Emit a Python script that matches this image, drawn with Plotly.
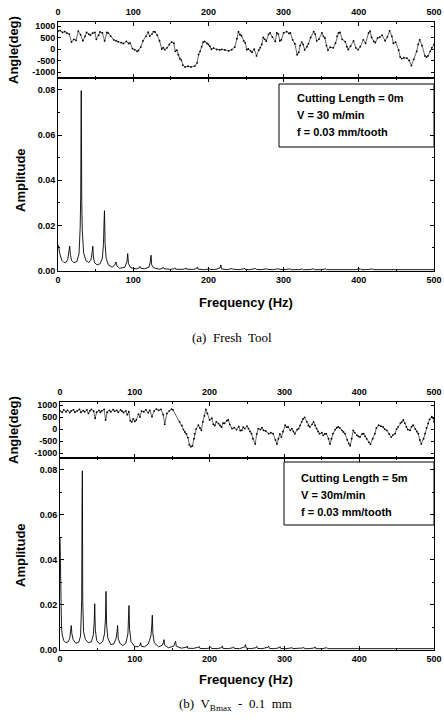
import plotly.graph_objects as go

# ---------------- data: (a) Fresh tool ----------------
angle_a_freq = [0, 3, 6, 9, 12, 15, 18, 21, 24, 27, 30, 33, 36, 38, 41, 43, 46, 49, 51, 54, 56, 59, 62, 65, 67, 70,
                74, 77, 80, 84, 87, 91, 94, 96, 99, 102, 105, 107, 110, 113, 117, 120, 122, 125, 127, 129, 132, 135,
                138, 140, 142, 145, 148, 151, 154, 156, 158, 160, 162, 164, 166, 169, 173, 177, 182, 185, 187, 189,
                191, 193, 195, 198, 200, 202, 204, 207, 211, 215, 218, 222, 227, 231, 235, 238, 240, 242, 244, 247,
                249, 251, 253, 256, 258, 261, 264, 267, 269, 271, 273, 275, 277, 280, 282, 285, 289, 291, 293, 295,
                297, 300, 304, 307, 309, 312, 315, 318, 320, 322, 324, 326, 328, 331, 333, 336, 340, 342, 344, 347,
                351, 353, 355, 357, 359, 362, 366, 369, 371, 373, 375, 378, 382, 384, 386, 389, 393, 396, 399, 402,
                406, 409, 413, 415, 417, 420, 422, 425, 428, 431, 435, 438, 441, 444, 446, 449, 453, 455, 457, 460,
                464, 467, 470, 473, 477, 479, 481, 484, 488, 490, 492, 495, 497, 500]
angle_a_deg = [780, 800, 720, 760, 690, 650, 300, 420, 380, 780, 620, 360, 550, 720, 650, 600, 690, 720, 420, 600,
               740, 700, 350, 720, 690, 560, 400, 360, 320, 280, 240, 330, 240, 260, 20, -30, -100, -60, 80, 350, 550,
               730, 560, 650, 760, 740, 600, 360, 0, 60, -30, 50, 200, 300, 250, -100, -50, -250, -420, -480, -700,
               -780, -750, -780, -740, -600, -240, -100, 100, 300, 330, 250, 200, 120, -10, 40, -20, -40, -15, -40,
               -80, -30, 80, 450, 750, 620, 580, 350, 270, -30, 0, -80, -140, -10, -300, -50, 60, 200, 500, 420, 340,
               640, 700, 520, 330, 700, 650, 350, 400, 700, 760, 680, 700, 400, 230, -250, -150, 150, 300, 200, -40,
               100, 230, 500, 760, 650, 350, 430, 700, 550, 480, 150, -50, 80, 50, 250, 550, 700, 720, 420, 320, 100,
               -20, 120, 350, 50, -30, 100, 400, 250, 700, 780, 500, 330, 280, 480, 520, 600, 360, 530, 790, 550, 250,
               300, -50, -350, -420, -380, -400, -500, -720, -450, -100, 200, 400, 150, -300, -350, -300, -100, 50, 200]

amp_a_freq = [0, 1, 2, 3, 5, 8, 11, 13, 14.5, 15.5, 16.5, 18, 21, 25, 28, 29.5, 30.2, 30.9, 31.6, 32.3, 34, 37, 41,
              44, 45.5, 46.3, 47.1, 48.5, 52, 56, 59, 60.5, 61.3, 61.8, 62.6, 64, 67, 72, 75.5, 77, 78.5, 82, 89,
              91.7, 92.7, 93.7, 97, 104, 108, 109, 110, 115, 121, 122.8, 123.7, 124.6, 127, 135, 139, 140, 141, 150,
              154.5, 155.5, 156.5, 165, 169.5, 170.3, 171, 180, 184.5, 185.4, 186.3, 195, 200, 201, 202, 210, 215.5,
              216.5, 217.5, 225, 231.5, 232.5, 240, 247, 248, 249, 255, 263, 264, 270, 278, 279, 285, 294, 295, 300,
              309, 310, 320, 325, 326, 335, 340, 341, 350, 356, 357, 365, 371, 372, 380, 387, 388, 395, 402, 403, 410,
              418, 419, 425, 433, 434, 440, 448, 449, 455, 464, 465, 470, 480, 481, 490, 495, 496, 500]
amp_a_val = [0.0115, 0.0105, 0.008, 0.0065, 0.0045, 0.0035, 0.0038, 0.005, 0.008, 0.0108, 0.007, 0.0045, 0.0035,
             0.004, 0.0075, 0.019, 0.033, 0.0797, 0.03, 0.018, 0.008, 0.0045, 0.0035, 0.005, 0.0085, 0.0108, 0.006,
             0.0035, 0.0025, 0.003, 0.0055, 0.012, 0.022, 0.0265, 0.012, 0.0055, 0.0025, 0.0015, 0.0025, 0.0038,
             0.002, 0.001, 0.0015, 0.004, 0.0075, 0.003, 0.0012, 0.0007, 0.0012, 0.0018, 0.001, 0.0008, 0.0015,
             0.004, 0.0068, 0.0025, 0.0012, 0.0006, 0.001, 0.0015, 0.0008, 0.0005, 0.0008, 0.0012, 0.0006, 0.0005,
             0.0008, 0.0012, 0.0006, 0.0005, 0.0009, 0.0015, 0.0006, 0.0004, 0.0007, 0.001, 0.0005, 0.0005, 0.0012,
             0.0025, 0.0007, 0.0004, 0.0009, 0.0006, 0.0004, 0.0007, 0.0011, 0.0005, 0.0004, 0.0009, 0.0005, 0.0004,
             0.0008, 0.0005, 0.0004, 0.0008, 0.0005, 0.0004, 0.0007, 0.0004, 0.0004, 0.0007, 0.0004, 0.0004, 0.0008,
             0.0004, 0.0004, 0.0007, 0.0004, 0.0004, 0.0007, 0.0004, 0.0004, 0.0007, 0.0004, 0.0004, 0.0008, 0.0004,
             0.0004, 0.0007, 0.0004, 0.0004, 0.0006, 0.0004, 0.0004, 0.0007, 0.0004, 0.0004, 0.0006, 0.0004, 0.0004,
             0.0006, 0.0004, 0.0004, 0.0007, 0.0004, 0.0004]

# ---------------- data: (b) VBmax 0.1 mm ----------------
angle_b_freq = [0, 3, 5, 8, 10, 13, 15, 18, 20, 23, 26, 28, 31, 33, 36, 38, 40, 42, 45, 47, 49, 52, 54, 56, 59, 61,
                63, 66, 68, 71, 73, 76, 78, 81, 83, 85, 88, 90, 92, 94, 96, 98, 100, 102, 105, 107, 109, 112, 115, 118,
                120, 123, 126, 129, 132, 135, 138, 140, 143, 146, 149, 151, 160, 163, 165, 167, 169, 171, 173, 175,
                177, 179, 180, 182, 185, 187, 189, 191, 193, 195, 197, 200, 203, 205, 207, 209, 212, 214, 216, 218,
                220, 223, 225, 227, 230, 233, 236, 239, 241, 243, 245, 247, 250, 252, 254, 256, 258, 261, 263, 265,
                268, 270, 272, 275, 279, 282, 285, 288, 290, 292, 294, 296, 298, 301, 303, 305, 308, 310, 312, 314,
                317, 319, 321, 323, 325, 327, 330, 332, 334, 337, 339, 341, 343, 345, 347, 350, 352, 354, 356, 359,
                361, 363, 365, 368, 370, 372, 374, 377, 379, 381, 384, 386, 388, 390, 392, 394, 397, 399, 401, 404,
                406, 408, 410, 413, 415, 418, 421, 423, 426, 429, 432, 434, 437, 440, 443, 445, 448, 450, 452, 455,
                457, 459, 461, 463, 465, 468, 470, 472, 475, 477, 479, 481, 483, 486, 488, 490, 492, 494, 497, 499, 500]
angle_b_deg = [760, 700, 800, 720, 780, 690, 760, 800, 700, 760, 820, 700, 770, 720, 800, 650, 760, 820, 740, 450,
               700, 780, 700, 760, 820, 380, 700, 780, 720, 810, 740, 780, 700, 800, 740, 690, 760, 600, 720, 350,
               300, 420, 320, 380, 620, 500, 750, 720, 800, 680, 780, 520, 760, 830, 780, 820, 600, 200, 650, 760,
               830, 800, 300, 150, -20, -120, -200, -350, -650, -730, -700, -400, -200, 0, 160, 50, -50, 300, 550,
               820, 650, 380, 450, 200, 150, 300, 230, 150, 80, 250, 240, 350, 380, 200, 20, 60, -20, 100, -60, -50,
               80, 20, 120, 20, -100, -190, -400, -620, -200, 20, -20, 60, -50, -80, -190, -150, -190, -450, -620,
               -400, -200, -330, -100, 160, 80, 90, -50, 20, -100, -190, -20, 20, 150, 300, 420, 490, 300, 150, 90,
               200, 300, 150, 20, -100, -190, -150, -260, -200, -190, -400, -620, -400, -190, -20, 60, 90, 50, -50,
               -120, -190, -450, -600, -690, -400, -50, -150, -260, -300, -330, -200, -190, -300, -400, -550, -620,
               -400, -190, 50, 160, 120, 90, 0, -50, -200, -330, -250, -190, 0, 90, 250, 300, 380, 250, 90, -20, -50,
               100, 160, 0, -100, -190, -450, -620, -400, -190, 50, 235, 400, 520, 450, 300]

amp_b_freq = [0, 0.5, 1, 2, 3, 5, 8, 11, 13, 14.3, 15.1, 15.9, 17.5, 21, 25, 27.5, 29, 29.5, 29.9, 30.4, 31.5, 34, 38,
              42, 44.5, 45.7, 46.4, 47.2, 49, 53, 57, 59.5, 60.8, 61.5, 62.3, 64, 68, 72, 75, 76.3, 77, 77.8, 80, 84,
              88, 90.8, 91.6, 92.2, 93, 95, 100, 105, 107, 107.8, 108.6, 113, 118, 121.5, 122.6, 123.4, 124.2, 126,
              132, 137, 138.5, 139, 139.8, 145, 152, 154, 154.6, 155.4, 162, 169, 170, 170.8, 178, 185, 186, 187,
              195, 200, 201.5, 202.5, 210, 216, 217, 218, 225, 231, 232, 233, 240, 247, 248, 249, 255, 262, 263, 264,
              270, 278, 279, 280, 287, 293, 294, 295, 302, 309, 310, 311, 318, 325, 326, 327, 333, 340, 341, 342,
              350, 356, 357, 358, 370, 380, 390, 400, 410, 420, 430, 440, 450, 460, 470, 480, 490, 500]
amp_b_val = [0.05, 0.035, 0.02, 0.01, 0.0065, 0.004, 0.003, 0.0035, 0.005, 0.008, 0.0107, 0.007, 0.0045, 0.0028,
             0.0032, 0.006, 0.022, 0.066, 0.0796, 0.022, 0.008, 0.0045, 0.003, 0.0035, 0.0065, 0.012, 0.0204, 0.009,
             0.004, 0.0025, 0.0035, 0.007, 0.014, 0.0259, 0.011, 0.005, 0.0022, 0.0025, 0.005, 0.008, 0.0107, 0.005,
             0.0028, 0.0018, 0.0028, 0.007, 0.012, 0.0196, 0.009, 0.0035, 0.0013, 0.0013, 0.002, 0.003, 0.0015,
             0.0012, 0.0025, 0.006, 0.01, 0.0153, 0.007, 0.003, 0.0012, 0.002, 0.0035, 0.0044, 0.002, 0.0008,
             0.0015, 0.003, 0.0037, 0.0015, 0.0006, 0.001, 0.0016, 0.0006, 0.0005, 0.001, 0.0014, 0.0005, 0.0004,
             0.0007, 0.0012, 0.0005, 0.0004, 0.0008, 0.0016, 0.0005, 0.0004, 0.0008, 0.0012, 0.0005, 0.0004, 0.0012,
             0.0022, 0.0006, 0.0004, 0.0008, 0.0014, 0.0005, 0.0004, 0.001, 0.0015, 0.0005, 0.0004, 0.0008, 0.0013,
             0.0005, 0.0004, 0.0007, 0.001, 0.0004, 0.0004, 0.0007, 0.001, 0.0004, 0.0004, 0.0007, 0.0012, 0.0004,
             0.0004, 0.0006, 0.0008, 0.0004, 0.0004, 0.0005, 0.0004, 0.0005, 0.0004, 0.0004, 0.0005, 0.0004, 0.0004,
             0.0005, 0.0004, 0.0004, 0.0005, 0.0004]

freq_ticks = [0, 100, 200, 300, 400, 500]
angle_ticks = [1000, 500, 0, -500, -1000]
angle_tick_text = ["1000", "500", "0", "-500", "-1000"]
amp_ticks = [0.00, 0.02, 0.04, 0.06, 0.08]

legend_a = ["Cutting Length = 0m", "V = 30 m/min", "f = 0.03 mm/tooth"]
legend_b = ["Cutting Length = 5m", "V = 30m/min", "f = 0.03 mm/tooth"]
caption_a = "(a)  Fresh  Tool"
caption_b = "(b)  V<sub>Bmax</sub>  -  0.1  mm"

# ---------------- figure ----------------
W, H = 444, 726
SANS = "Liberation Sans"
tickfont = dict(family=SANS, size=9, color="black", weight="bold")
line_kw = dict(color="black", width=0.9)
angle_line = dict(color="#222", width=0.7)

fig = go.Figure()
fig.add_trace(go.Scatter(x=angle_a_freq, y=angle_a_deg, mode="lines+markers", line=angle_line,
                         marker=dict(size=1.8, color="black"), xaxis="x", yaxis="y", showlegend=False))
fig.add_trace(go.Scatter(x=amp_a_freq, y=amp_a_val, mode="lines", line=line_kw,
                         xaxis="x2", yaxis="y2", showlegend=False))
fig.add_trace(go.Scatter(x=angle_b_freq, y=angle_b_deg, mode="lines+markers", line=angle_line,
                         marker=dict(size=1.8, color="black"), xaxis="x3", yaxis="y3", showlegend=False))
fig.add_trace(go.Scatter(x=amp_b_freq, y=amp_b_val, mode="lines", line=line_kw,
                         xaxis="x4", yaxis="y4", showlegend=False))


def py(px):
    return 1 - px / H


def pxx(px):
    return px / W


common_x = dict(range=[0, 500], tickvals=freq_ticks, ticks="inside", ticklen=4, tickwidth=1,
                tickcolor="black", showline=True, linecolor="black", linewidth=1, mirror="ticks",
                showgrid=False, zeroline=False, tickfont=tickfont, automargin=False,
                minor=dict(dtick=50, ticks="inside", ticklen=2, tickcolor="black"))
common_y = dict(ticks="inside", tickcolor="black", showline=True, linecolor="black", linewidth=1,
                mirror="ticks", showgrid=False, zeroline=False, tickfont=tickfont, automargin=False)

xa_dom = [pxx(58), pxx(434)]
xb_dom = [pxx(60), pxx(434)]

fig.update_layout(
    width=W, height=H, margin=dict(l=0, r=0, t=0, b=0, autoexpand=False),
    paper_bgcolor="white", plot_bgcolor="white",
    xaxis=dict(common_x, domain=xa_dom, anchor="y", side="top", ticklabelstandoff=2),
    yaxis=dict(common_y, domain=[py(78), py(22)], anchor="x", range=[-1260, 1175], tickvals=angle_ticks,
               ticktext=angle_tick_text, ticklen=3),
    xaxis2=dict(common_x, domain=xa_dom, anchor="y2", side="bottom"),
    yaxis2=dict(common_y, domain=[py(271), py(78)], anchor="x2", range=[-0.0002, 0.0853], tickvals=amp_ticks,
                tickformat=".2f", ticklen=4,
                minor=dict(dtick=0.01, ticks="inside", ticklen=2, tickcolor="black")),
    xaxis3=dict(common_x, domain=xb_dom, anchor="y3", side="top", ticklabelstandoff=2),
    yaxis3=dict(common_y, domain=[py(458), py(402)], anchor="x3", range=[-1200, 1125], tickvals=angle_ticks,
                ticktext=angle_tick_text, ticklen=3),
    xaxis4=dict(common_x, domain=xb_dom, anchor="y4", side="bottom"),
    yaxis4=dict(common_y, domain=[py(650), py(458)], anchor="x4", range=[-0.0002, 0.0853], tickvals=amp_ticks,
                tickformat=".2f", ticklen=4,
                minor=dict(dtick=0.01, ticks="inside", ticklen=2, tickcolor="black")),
)

titlefont = dict(family=SANS, size=13, color="black", weight="bold")
ann = []
# axis titles
for cy_angle, cy_amp, cx_angle, cx_amp, fy in [(50, 180, 13, 20, 302), (430, 555, 13, 20, 679)]:
    ann.append(dict(text="Angle(deg)", x=pxx(cx_angle), y=py(cy_angle), xref="paper", yref="paper",
                    textangle=-90, showarrow=False, font=titlefont, xanchor="center", yanchor="middle"))
    ann.append(dict(text="Amplitude", x=pxx(cx_amp), y=py(cy_amp), xref="paper", yref="paper",
                    textangle=-90, showarrow=False, font=titlefont, xanchor="center", yanchor="middle"))
    ann.append(dict(text="Frequency (Hz)", x=pxx(246), y=py(fy), xref="paper", yref="paper",
                    showarrow=False, font=titlefont, xanchor="center", yanchor="middle"))

capfont = dict(family="Liberation Serif", size=13, color="black")
ann.append(dict(text=caption_a, x=pxx(232), y=py(338), xref="paper", yref="paper", showarrow=False,
                font=capfont, xanchor="center", yanchor="middle"))
ann.append(dict(text=caption_b, x=pxx(235), y=py(704), xref="paper", yref="paper", showarrow=False,
                font=capfont, xanchor="center", yanchor="middle"))

legfont = dict(family=SANS, size=11, color="black", weight="bold")
for lines, x0, ys in [(legend_a, 295, [98, 115, 132]), (legend_b, 299, [478, 495, 512])]:
    for t, yy in zip(lines, ys):
        ann.append(dict(text=t, x=pxx(x0), y=py(yy), xref="paper", yref="paper", showarrow=False,
                        font=legfont, xanchor="left", yanchor="middle"))

fig.update_layout(annotations=ann)

shapes = [
    dict(type="rect", xref="paper", yref="paper", x0=pxx(279), x1=pxx(434), y0=py(147), y1=py(84),
         line=dict(color="black", width=1), fillcolor="white", layer="below"),
    dict(type="rect", xref="paper", yref="paper", x0=pxx(284), x1=pxx(434), y0=py(525), y1=py(462),
         line=dict(color="black", width=1), fillcolor="white", layer="below"),
]
fig.update_layout(shapes=shapes)

fig.write_html("out.html", config={"displayModeBar": False},
               post_script="document.body.style.margin='0';document.body.style.overflow='hidden';")
